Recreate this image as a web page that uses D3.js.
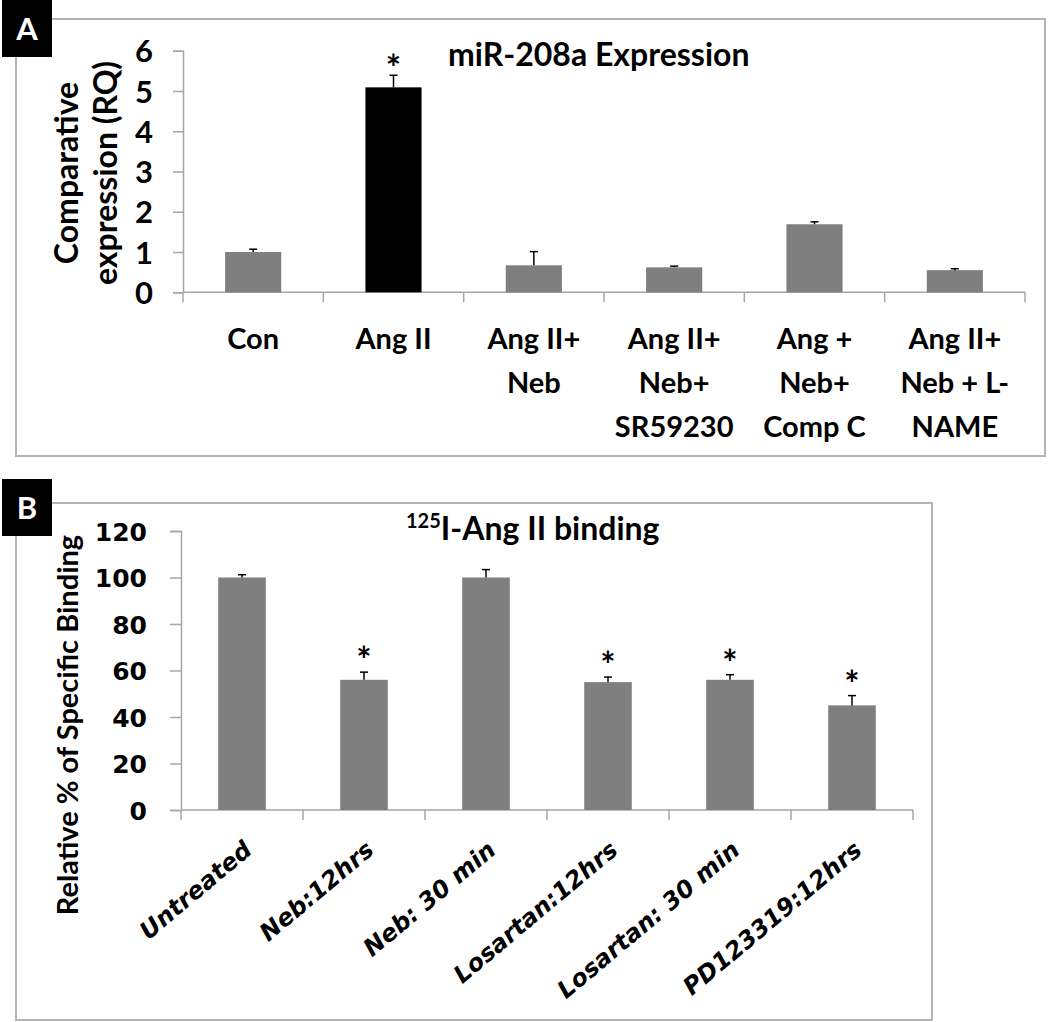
<!DOCTYPE html>
<html>
<head>
<meta charset="utf-8">
<script src="https://cdn.jsdelivr.net/npm/d3@7"></script>
<style>
  body { margin: 0; background: #fff; }
  svg text { font-family: Lato, "Open Sans", sans-serif; font-weight: bold; fill: #000; }
</style>
</head>
<body>
<div id="chart"></div>
<script>
// panel A data
const groupsA = [["Con"], ["Ang II"], ["Ang II+", "Neb"], ["Ang II+", "Neb+", "SR59230"], ["Ang +", "Neb+", "Comp C"], ["Ang II+", "Neb + L-", "NAME"]];
const valuesA = [1.0, 5.09, 0.67, 0.62, 1.69, 0.55];
const errorsA = [0.07, 0.30, 0.34, 0.03, 0.06, 0.035];
const starsA = [false, true, false, false, false, false];
const ticksA = [0, 1, 2, 3, 4, 5, 6];

// panel B data
const groupsB = ["Untreated", "Neb:12hrs", "Neb: 30 min", "Losartan:12hrs", "Losartan: 30 min", "PD123319:12hrs"];
const valuesB = [100, 56, 100, 55, 56, 45];
const errorsB = [1.2, 3.3, 3.4, 2.2, 2.2, 4.2];
const starsB = [false, true, false, true, true, true];
const ticksB = [0, 20, 40, 60, 80, 100, 120];

const width = 1050, height = 1022;
const grey = "#7f7f7f", axisCol = "#a6a6a6", frameCol = "#b4b4b4";

const svg = d3.select("#chart").append("svg")
  .attr("width", width)
  .attr("height", height);

// frames + panel letters
function frame(x0, y0, x1, y1, letter, ly) {
  svg.append("rect")
    .attr("x", x0).attr("y", y0)
    .attr("width", x1 - x0).attr("height", y1 - y0)
    .attr("fill", "none").attr("stroke", frameCol).attr("stroke-width", 2);
  svg.append("rect")
    .attr("x", 2).attr("y", ly)
    .attr("width", 50).attr("height", 57)
    .attr("fill", "#000");
  svg.append("text")
    .attr("x", 27).attr("y", ly + 40)
    .attr("text-anchor", "middle")
    .style("fill", "#fff").style("font-size", "31px")
    .text(letter);
}
frame(16, 19, 1045, 456, "A", 0);
frame(16, 503, 932, 1020, "B", 479);

// ---------- Panel A ----------
const dataA = groupsA.map((g, i) => ({ key: g.join(" "), lines: g, v: valuesA[i], e: errorsA[i], star: starsA[i] }));

const xA = d3.scaleBand()
  .domain(dataA.map(d => d.key))
  .range([183, 1025])
  .paddingInner(0.6)
  .paddingOuter(0.3);
const yA = d3.scaleLinear().domain([0, 6]).range([292.3, 50.7]);

const gA = svg.append("g");

gA.append("g")
  .attr("transform", "translate(183,0)")
  .call(d3.axisLeft(yA).tickValues(ticksA).tickFormat(d3.format("d")).tickSize(10).tickPadding(20))
  .call(g => g.select(".domain").attr("stroke", axisCol).attr("stroke-width", 1.5))
  .call(g => g.selectAll(".tick line").attr("stroke", axisCol).attr("stroke-width", 1.5))
  .call(g => g.selectAll(".tick text").attr("font-family", null).style("font-size", "31px").attr("dy", "0.36em"));

// x axis line and category boundary ticks
gA.append("line")
  .attr("x1", 183).attr("x2", 183 + xA.step() * dataA.length)
  .attr("y1", yA(0)).attr("y2", yA(0))
  .attr("stroke", axisCol).attr("stroke-width", 1.5);
gA.selectAll(".bt").data(d3.range(dataA.length + 1)).join("line")
  .attr("x1", i => 183 + i * xA.step()).attr("x2", i => 183 + i * xA.step())
  .attr("y1", yA(0)).attr("y2", yA(0) + 10)
  .attr("stroke", axisCol).attr("stroke-width", 1.5);

gA.selectAll(".bar").data(dataA).join("rect")
  .attr("x", d => xA(d.key))
  .attr("width", xA.bandwidth())
  .attr("y", d => yA(d.v))
  .attr("height", d => yA(0) - yA(d.v))
  .attr("fill", d => d.key === "Ang II" ? "#000" : grey);

// error bars (upper only)
const errA = gA.selectAll(".err").data(dataA).join("g");
errA.append("line")
  .attr("x1", d => xA(d.key) + xA.bandwidth() / 2).attr("x2", d => xA(d.key) + xA.bandwidth() / 2)
  .attr("y1", d => yA(d.v)).attr("y2", d => yA(d.v + d.e))
  .attr("stroke", "#000").attr("stroke-width", 1.5);
errA.append("line")
  .attr("x1", d => xA(d.key) + xA.bandwidth() / 2 - 4).attr("x2", d => xA(d.key) + xA.bandwidth() / 2 + 4)
  .attr("y1", d => yA(d.v + d.e)).attr("y2", d => yA(d.v + d.e))
  .attr("stroke", "#000").attr("stroke-width", 1.5);

gA.selectAll(".star").data(dataA.filter(d => d.star)).join("text")
  .attr("x", d => xA(d.key) + xA.bandwidth() / 2)
  .attr("y", d => yA(d.v + d.e) + 6)
  .attr("text-anchor", "middle")
  .style("font-size", "36px")
  .text("*");

// multi-line category labels
gA.selectAll(".lab").data(dataA).join("text")
  .attr("text-anchor", "middle")
  .style("font-size", "29px")
  .each(function(d) {
    d3.select(this).selectAll("tspan").data(d.lines).join("tspan")
      .attr("x", xA(d.key) + xA.bandwidth() / 2)
      .attr("y", (l, j) => 349 + j * 44)
      .text(l => l);
  });

gA.append("text")
  .attr("x", 448).attr("y", 66)
  .style("font-size", "32px")
  .text("miR-208a Expression");

gA.append("text")
  .attr("transform", "translate(78,173) rotate(-90)")
  .attr("text-anchor", "middle")
  .style("font-size", "32px")
  .selectAll("tspan").data(["Comparative", "expression (RQ)"]).join("tspan")
  .attr("x", 0).attr("dy", (d, i) => i === 0 ? 0 : 39)
  .text(d => d);

// ---------- Panel B ----------
const dataB = groupsB.map((g, i) => ({ key: g, v: valuesB[i], e: errorsB[i], star: starsB[i] }));

const xB = d3.scaleBand()
  .domain(groupsB)
  .range([181, 913])
  .paddingInner(0.61)
  .paddingOuter(0.305);
const yB = d3.scaleLinear().domain([0, 120]).range([810, 531]);

const gB = svg.append("g");

gB.append("g")
  .attr("transform", "translate(181,0)")
  .call(d3.axisLeft(yB).tickValues(ticksB).tickSize(11).tickPadding(23))
  .call(g => g.select(".domain").attr("stroke", axisCol).attr("stroke-width", 1.5))
  .call(g => g.selectAll(".tick line").attr("stroke", axisCol).attr("stroke-width", 1.5))
  .call(g => g.selectAll(".tick text").attr("font-family", null)
    .style("font-family", "'DejaVu Sans', sans-serif").style("font-size", "25px").attr("dy", "0.36em"));

gB.append("line")
  .attr("x1", 181).attr("x2", 181 + xB.step() * dataB.length)
  .attr("y1", yB(0)).attr("y2", yB(0))
  .attr("stroke", axisCol).attr("stroke-width", 1.5);
gB.selectAll(".bt").data(d3.range(dataB.length + 1)).join("line")
  .attr("x1", i => 181 + i * xB.step()).attr("x2", i => 181 + i * xB.step())
  .attr("y1", yB(0)).attr("y2", yB(0) + 10)
  .attr("stroke", axisCol).attr("stroke-width", 1.5);

gB.selectAll(".bar").data(dataB).join("rect")
  .attr("x", d => xB(d.key))
  .attr("width", xB.bandwidth())
  .attr("y", d => yB(d.v))
  .attr("height", d => yB(0) - yB(d.v))
  .attr("fill", grey);

const errB = gB.selectAll(".err").data(dataB).join("g");
errB.append("line")
  .attr("x1", d => xB(d.key) + xB.bandwidth() / 2).attr("x2", d => xB(d.key) + xB.bandwidth() / 2)
  .attr("y1", d => yB(d.v)).attr("y2", d => yB(d.v + d.e))
  .attr("stroke", "#000").attr("stroke-width", 1.5);
errB.append("line")
  .attr("x1", d => xB(d.key) + xB.bandwidth() / 2 - 4).attr("x2", d => xB(d.key) + xB.bandwidth() / 2 + 4)
  .attr("y1", d => yB(d.v + d.e)).attr("y2", d => yB(d.v + d.e))
  .attr("stroke", "#000").attr("stroke-width", 1.5);

gB.selectAll(".star").data(dataB.filter(d => d.star)).join("text")
  .attr("x", d => xB(d.key) + xB.bandwidth() / 2)
  .attr("y", d => yB(d.v + d.e) + 1)
  .attr("text-anchor", "middle")
  .style("font-size", "36px")
  .text("*");

gB.selectAll(".lab").data(dataB).join("text")
  .attr("transform", d => `translate(${xB(d.key) + xB.bandwidth() / 2 + 6},${yB(0) + 36}) rotate(-40)`)
  .attr("text-anchor", "end")
  .attr("dy", "0.35em")
  .style("font-family", "'DejaVu Sans', sans-serif")
  .style("font-style", "italic")
  .style("font-size", "24px")
  .text(d => d.key);

const titleB = gB.append("text")
  .attr("x", 406).attr("y", 540)
  .style("font-size", "32px");
titleB.append("tspan").attr("dy", -12).style("font-size", "20px").text("125");
titleB.append("tspan").attr("dy", 12).text("I-Ang II binding");

gB.append("text")
  .attr("transform", "translate(78,725) rotate(-90)")
  .attr("text-anchor", "middle")
  .style("font-size", "29px")
  .text("Relative % of Specific Binding");
</script>
</body>
</html>
